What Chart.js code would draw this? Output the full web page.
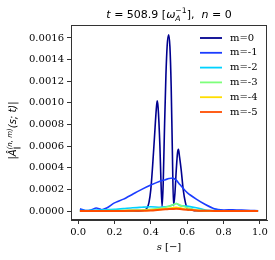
<!DOCTYPE html>
<html lang="en">
<head>
  <meta charset="UTF-8" />
  <title>Mode amplitudes n=0</title>
  <script src="https://cdn.jsdelivr.net/npm/chart.js"></script>
  <style>
    html, body { margin: 0; padding: 0; background: #fff; }
    #wrap { width: 275px; height: 260px; }
  </style>
</head>
<body>
  <div id="wrap"><canvas id="chart" width="275" height="260"></canvas></div>

  <script>
    // radial grid for m=-1..-5
    const sCoarse = [0.01, 0.04, 0.07, 0.10, 0.13, 0.16, 0.20, 0.25, 0.30, 0.35, 0.40, 0.45, 0.48,
                     0.50, 0.52, 0.54, 0.56, 0.60, 0.65, 0.70, 0.75, 0.80, 0.85, 0.90, 0.95, 0.99];
    const mMinus1 = [0.000020, 0.000005, 0.000010, 0.000028, 0.000012, 0.000030, 0.000075, 0.000110,
                     0.000155, 0.000200, 0.000240, 0.000275, 0.000290, 0.000300, 0.000305, 0.000285,
                     0.000245, 0.000170, 0.000110, 0.000060, 0.000020, 0.000010, 0.000012, 0.000008,
                     0.000005, 0.000003];
    const mMinus2 = [0.000005, 0.000005, 0.000006, 0.000008, 0.000010, 0.000012, 0.000015, 0.000022,
                     0.000030, 0.000035, 0.000040, 0.000035, 0.000040, 0.000045, 0.000055, 0.000070,
                     0.000050, 0.000045, 0.000030, 0.000010, 0.000004, 0.000003, 0.000003, 0.000003,
                     0.000003, 0.000003];
    const mMinus3 = [0.000002, 0.000002, 0.000002, 0.000003, 0.000003, 0.000004, 0.000005, 0.000006,
                     0.000008, 0.000010, 0.000015, 0.000025, 0.000035, 0.000045, 0.000055, 0.000070,
                     0.000055, 0.000030, 0.000010, 0.000004, 0.000002, 0.000002, 0.000002, 0.000002,
                     0.000002, 0.000002];
    const mMinus4 = [0.000001, 0.000001, 0.000001, 0.000001, 0.000001, 0.000002, 0.000002, 0.000003,
                     0.000004, 0.000005, 0.000008, 0.000015, 0.000020, 0.000025, 0.000030, 0.000035,
                     0.000030, 0.000015, 0.000006, 0.000002, 0.000001, 0.000001, 0.000001, 0.000001,
                     0.000001, 0.000001];
    const mMinus5 = [0.0000005, 0.0000005, 0.0000005, 0.0000005, 0.0000005, 0.0000008, 0.000001, 0.000001,
                     0.000002, 0.000003, 0.000005, 0.000012, 0.000016, 0.000018, 0.000019, 0.000020,
                     0.000018, 0.000012, 0.000005, 0.000002, 0.000001, 0.0000008, 0.0000005, 0.0000005,
                     0.0000005, 0.0000005];

    // finer grid around the m=0 peaks
    const sFine = [0.01, 0.30, 0.36, 0.38, 0.39, 0.40, 0.41, 0.42, 0.43, 0.435, 0.44, 0.45, 0.455,
                   0.462, 0.468, 0.475, 0.483, 0.49, 0.498, 0.505, 0.512, 0.518, 0.525, 0.532, 0.54,
                   0.547, 0.552, 0.558, 0.567, 0.578, 0.59, 0.605, 0.62, 0.635, 0.65, 0.70, 0.99];
    const m0 = [0, 0, 0.000005, 0.00003, 0.00008, 0.00020, 0.00042, 0.00068, 0.00094, 0.00102, 0.00096,
                0.00060, 0.00032, 0.00004, 0.00025, 0.00075, 0.00125, 0.00153, 0.00163, 0.00152,
                0.00115, 0.00060, 0.00005, 0.00015, 0.00038, 0.00054, 0.00057, 0.00050, 0.00038,
                0.00020, 0.00008, 0.00001, 0.00002, 0.000005, 0.000002, 0, 0];

    const modeLabels = ['m=0', 'm=-1', 'm=-2', 'm=-3', 'm=-4', 'm=-5'];
    const modeColors = ['#00008f', '#1a3cff', '#00d2ff', '#7dff7a', '#ffde00', '#ff4d00'];
    const yTicks = [0, 0.0002, 0.0004, 0.0006, 0.0008, 0.0010, 0.0012, 0.0014, 0.0016];
    const xTicks = [0, 0.2, 0.4, 0.6, 0.8, 1.0];

    const pts = (xs, ys) => xs.map((x, i) => ({ x: x, y: ys[i] }));
    const series = [pts(sFine, m0), pts(sCoarse, mMinus1), pts(sCoarse, mMinus2),
                    pts(sCoarse, mMinus3), pts(sCoarse, mMinus4), pts(sCoarse, mMinus5)];

    // draw a run of text pieces, with sub/superscripts that can stack
    function richWidth(ctx, segs, size, family) {
      let w = 0, scriptStart = null, scriptW = 0;
      segs.forEach(g => {
        const sz = g.pos === 'base' ? size : size * 0.7;
        ctx.font = (g.italic ? 'italic ' : '') + sz + 'px ' + family;
        const tw = ctx.measureText(g.t).width;
        if (g.stack) { w = scriptStart + Math.max(scriptW, tw); }
        else { scriptStart = w; scriptW = tw; w += tw; }
      });
      return w;
    }
    function drawRich(ctx, segs, x0, y0, size, family) {
      let x = x0, scriptStart = null, scriptW = 0;
      segs.forEach(g => {
        const sz = g.pos === 'base' ? size : size * 0.7;
        ctx.font = (g.italic ? 'italic ' : '') + sz + 'px ' + family;
        const dy = g.pos === 'sup' ? -size * 0.42 : g.pos === 'sub' ? size * 0.3 : 0;
        const tw = ctx.measureText(g.t).width;
        if (g.stack) {
          ctx.fillText(g.t, scriptStart, y0 + dy);
          x = scriptStart + Math.max(scriptW, tw);
        } else {
          ctx.fillText(g.t, x, y0 + dy);
          scriptStart = x; scriptW = tw; x += tw;
        }
      });
    }

    const titleSegs = [
      { t: 't', italic: true, pos: 'base' }, { t: ' = 508.9 [', pos: 'base' },
      { t: 'ω', italic: true, pos: 'base' }, { t: 'A', italic: true, pos: 'sub' },
      { t: '−1', pos: 'sup', stack: true }, { t: '],  ', pos: 'base' },
      { t: 'n', italic: true, pos: 'base' }, { t: ' = 0', pos: 'base' }
    ];
    const yLabelSegs = [
      { t: '|Â', italic: true, pos: 'base' }, { t: '∥', pos: 'sub' },
      { t: '(n, m)', italic: true, pos: 'sup', stack: true },
      { t: '(s; t)|', italic: true, pos: 'base' }
    ];
    const xLabelSegs = [{ t: 's', italic: true, pos: 'base' }, { t: ' [−]', pos: 'base' }];

    const decorations = {
      id: 'decorations',
      afterDraw(chart) {
        const ctx = chart.ctx, a = chart.chartArea;
        ctx.save();
        ctx.strokeStyle = '#333';
        ctx.lineWidth = 1;
        ctx.strokeRect(a.left + 0.5, a.top + 0.5, a.right - a.left - 1, a.bottom - a.top - 1);
        ctx.fillStyle = '#000';
        ctx.textBaseline = 'alphabetic';
        ctx.textAlign = 'left';

        const cx = (a.left + a.right) / 2;
        let w = richWidth(ctx, titleSegs, 11, 'DejaVu Sans');
        drawRich(ctx, titleSegs, cx - w / 2, 18, 11, 'DejaVu Sans');

        w = richWidth(ctx, xLabelSegs, 10, 'DejaVu Serif');
        drawRich(ctx, xLabelSegs, cx - w / 2, 250, 10, 'DejaVu Serif');

        ctx.save();
        ctx.translate(16, (a.top + a.bottom) / 2 + 8);
        ctx.rotate(-Math.PI / 2);
        w = richWidth(ctx, yLabelSegs, 10, 'DejaVu Sans');
        drawRich(ctx, yLabelSegs, -w / 2, 0, 10, 'DejaVu Sans');
        ctx.restore();

        // legend in the upper right of the axes
        ctx.font = '10px DejaVu Serif';
        ctx.textBaseline = 'middle';
        modeLabels.forEach((lab, i) => {
          const y = 38 + i * 14.8;
          ctx.strokeStyle = modeColors[i];
          ctx.lineWidth = 1.8;
          ctx.beginPath();
          ctx.moveTo(200, y);
          ctx.lineTo(222, y);
          ctx.stroke();
          ctx.fillStyle = '#000';
          ctx.fillText(lab, 230, y);
        });
        ctx.restore();
      }
    };

    new Chart(document.getElementById('chart'), {
      type: 'line',
      data: {
        datasets: series.map((d, i) => ({
          label: modeLabels[i],
          data: d,
          borderColor: modeColors[i],
          borderWidth: i === 5 ? 2 : 1.6,
          pointRadius: 0,
          fill: false,
          cubicInterpolationMode: i === 0 ? 'monotone' : 'default',
          tension: i === 0 ? 0.4 : 0.2,
          // later modes sit on top, as in the original plot
          order: 5 - i
        }))
      },
      options: {
        responsive: false,
        animation: false,
        layout: { padding: { top: 25, right: 8, left: 0, bottom: 0 } },
        plugins: { legend: { display: false }, tooltip: { enabled: false }, title: { display: false } },
        scales: {
          x: {
            type: 'linear',
            min: -0.039,
            max: 1.039,
            afterFit: s => { s.height = 40; },
            afterBuildTicks: s => { s.ticks = xTicks.map(v => ({ value: v })); },
            grid: { drawOnChartArea: false, drawTicks: true, tickLength: 4, tickColor: '#333' },
            border: { display: true, color: '#333' },
            ticks: {
              color: '#000',
              padding: 2,
              maxRotation: 0,
              font: { family: 'DejaVu Serif', size: 10 },
              callback: v => v.toFixed(1)
            }
          },
          y: {
            min: -0.000083,
            max: 0.00172,
            afterFit: s => { s.width = 71; },
            afterBuildTicks: s => { s.ticks = yTicks.map(v => ({ value: v })); },
            grid: { drawOnChartArea: false, drawTicks: true, tickLength: 4, tickColor: '#333' },
            border: { display: true, color: '#333' },
            ticks: {
              color: '#000',
              padding: 3,
              font: { family: 'DejaVu Serif', size: 10 },
              callback: v => v.toFixed(4)
            }
          }
        }
      },
      plugins: [decorations]
    });
  </script>
</body>
</html>
